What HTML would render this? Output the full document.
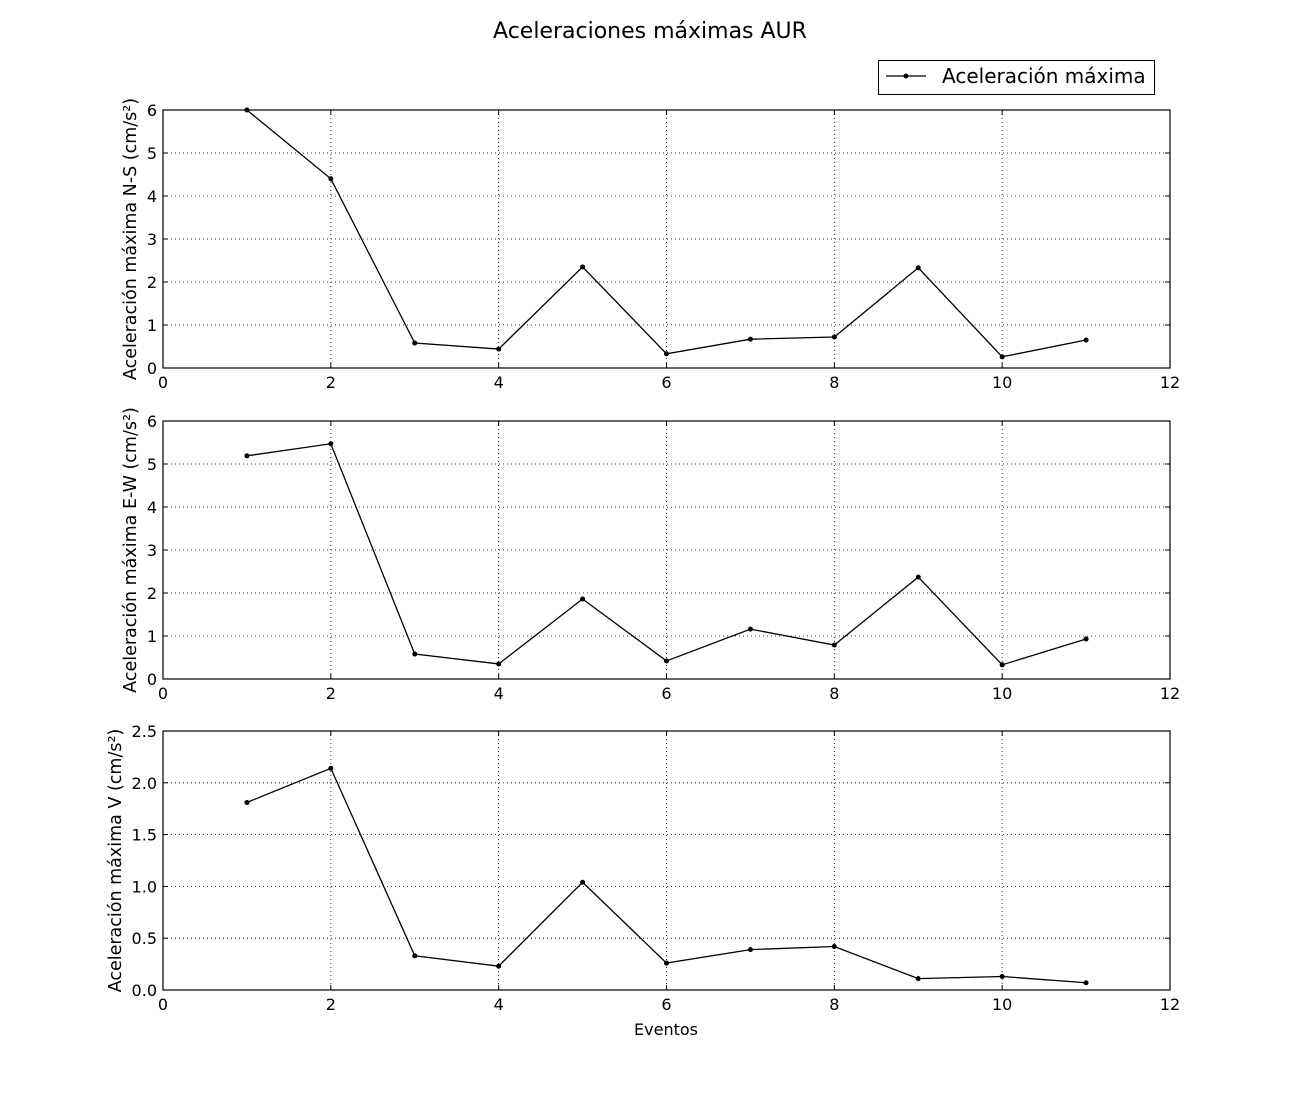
<!DOCTYPE html>
<html><head><meta charset="utf-8"><style>
body{margin:0;background:#fff}
svg{font-family:"DejaVu Sans","Liberation Sans",sans-serif}
</style></head><body>
<svg id="chart" width="1300" height="1100">
<rect width="1300" height="1100" fill="#fff"/>
<text x="650" y="38" text-anchor="middle" font-size="22">Aceleraciones máximas AUR</text>
<g>
<rect x="878.5" y="60.5" width="276" height="34" fill="#fff" stroke="#000"/>
<line x1="886" y1="76" x2="926" y2="76" stroke="#000" stroke-width="1.3"/>
<circle cx="906" cy="76" r="2.5"/>
<text x="942" y="83" font-size="20">Aceleración máxima</text>
</g>
<text x="666" y="1035" text-anchor="middle" font-size="16">Eventos</text>
</svg>
<script>
const events=[1,2,3,4,5,6,7,8,9,10,11];
const nsValues=[6.0,4.40,0.58,0.44,2.35,0.33,0.67,0.72,2.33,0.26,0.65];
const ewValues=[5.19,5.47,0.58,0.35,1.86,0.42,1.16,0.79,2.37,0.33,0.93];
const vValues=[1.81,2.14,0.33,0.23,1.04,0.26,0.39,0.42,0.11,0.13,0.07];
const xTicks=[0,2,4,6,8,10,12];
const nsTicks=[0,1,2,3,4,5,6];
const ewTicks=[0,1,2,3,4,5,6];
const vTicks=["0.0","0.5","1.0","1.5","2.0","2.5"];
const labels=["Aceleración máxima N-S (cm/s²)","Aceleración máxima E-W (cm/s²)","Aceleración máxima V (cm/s²)"];
const svg=document.getElementById('chart');
const NS="http://www.w3.org/2000/svg";
function mk(t,a,p){const e=document.createElementNS(NS,t);for(const k in a)e.setAttribute(k,a[k]);(p||svg).appendChild(e);return e;}
const L=163,R=1170;
const xs=v=>L+(v-0)/(12-0)*(R-L);
const panels=[
 {top:110,bot:368,max:6,ticks:nsTicks,vals:nsValues,name:'ns',lx:136},
 {top:421,bot:679,max:6,ticks:ewTicks,vals:ewValues,name:'ew',lx:136},
 {top:731,bot:990,max:2.5,ticks:vTicks,vals:vValues,name:'v',lx:121}];
panels.forEach((p,i)=>{
 const g=mk('g',{});
 
 
 const ys=v=>p.bot-v/p.max*(p.bot-p.top);
 xTicks.forEach(t=>{
  const x=xs(t);
  if(t>0&&t<12){const gl=mk('line',{x1:x,x2:x,y1:p.top,y2:p.bot,stroke:'#000','stroke-width':0.8,'stroke-dasharray':'1,3'},g);
   }
  mk('line',{x1:x,x2:x,y1:p.bot,y2:p.bot-5,stroke:'#000'},g);
  mk('line',{x1:x,x2:x,y1:p.top,y2:p.top+5,stroke:'#000'},g);
  const tx=mk('text',{x:x,y:p.bot+20,'text-anchor':'middle','font-size':16},g);tx.textContent=t;
  
 });
 p.ticks.forEach(t=>{
  const y=ys(parseFloat(t));
  if(parseFloat(t)>0&&parseFloat(t)<p.max){const gl=mk('line',{x1:L,x2:R,y1:y,y2:y,stroke:'#000','stroke-width':0.8,'stroke-dasharray':'1,3'},g);
   }
  mk('line',{x1:L,x2:L+5,y1:y,y2:y,stroke:'#000'},g);
  mk('line',{x1:R,x2:R-5,y1:y,y2:y,stroke:'#000'},g);
  const tx=mk('text',{x:L-6,y:y+6,'text-anchor':'end','font-size':16},g);tx.textContent=t;
  
 });
 const fr=mk('rect',{x:L,y:p.top,width:R-L,height:p.bot-p.top,fill:'none',stroke:'#000','stroke-width':1.2},g);
 
 const pts=events.map((e,k)=>xs(e)+','+ys(p.vals[k])).join(' ');
 const pl=mk('polyline',{points:pts,fill:'none',stroke:'#000','stroke-width':1.3},g);
 
 events.forEach((e,k)=>{const c=mk('circle',{cx:xs(e),cy:ys(p.vals[k]),r:2.5},g);
  });
 const cy=(p.top+p.bot)/2;
 const yl=mk('text',{x:p.lx,y:cy,'text-anchor':'middle','font-size':17.5,transform:`rotate(-90 ${p.lx} ${cy})`},g);
 yl.textContent=labels[i];
 
});
</script>
</body></html>
